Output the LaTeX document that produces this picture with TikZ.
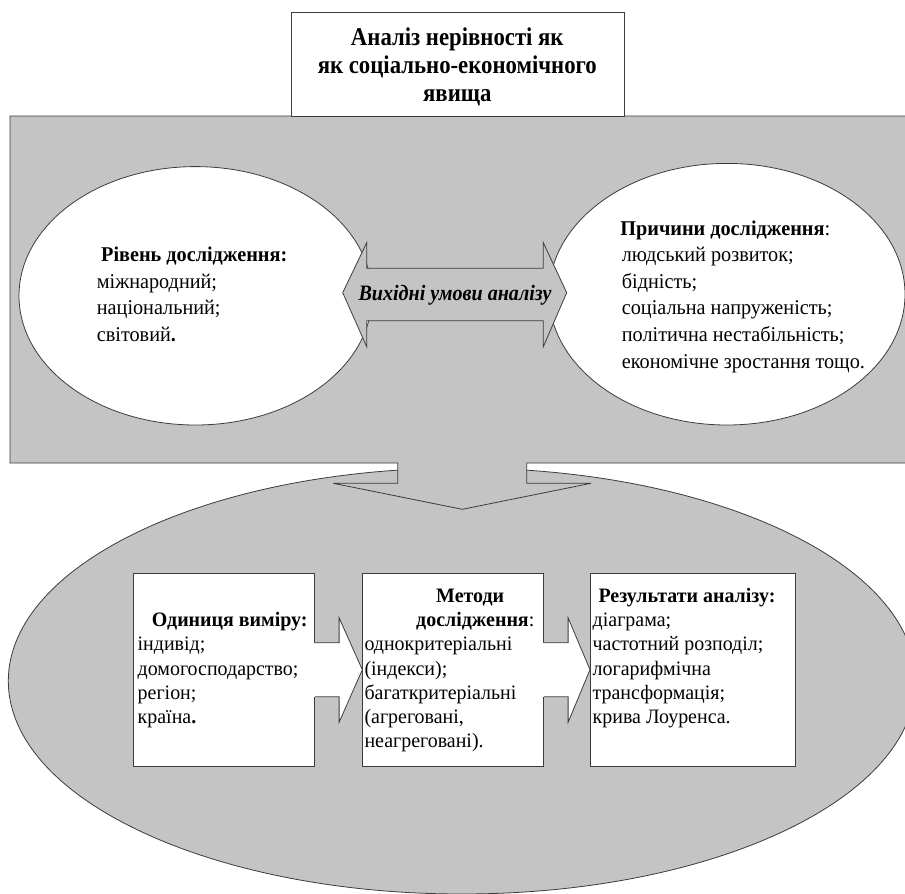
\documentclass[tikz,border=0pt]{standalone}
\usepackage{fontspec}
\setmainfont{Liberation Serif}
\usetikzlibrary{shapes.geometric,calc}
\definecolor{panelgray}{RGB}{196,196,196}
\definecolor{edgegray}{RGB}{60,60,60}
\newlength{\calw}
\newcommand{\indU}[1]{\hspace*{\fpeval{(#1)/\scU}pt}}
\newcommand{\indL}[1]{\hspace*{\fpeval{(#1)/\scL}pt}}
\begin{document}
% --- horizontal squeeze of the text, from widths measured in the reference ---
\settowidth{\calw}{\fontsize{21}{24}\selectfont економічне зростання тощо.}%
\pgfmathsetmacro{\scU}{243/\calw}%
\settowidth{\calw}{\fontsize{20.5}{24}\selectfont однокритеріальні}%
\pgfmathsetmacro{\scLa}{165/\calw}%
\settowidth{\calw}{\fontsize{20.5}{24}\selectfont частотний розподіл;}%
\pgfmathsetmacro{\scLb}{151/\calw}%
\pgfmathsetmacro{\scL}{(\scLa+\scLb)/2}%
\settowidth{\calw}{\fontsize{25.5}{28}\selectfont\bfseries як соціально-економічного}%
\pgfmathsetmacro{\scT}{279/\calw}%
\settowidth{\calw}{\fontsize{22}{24}\selectfont\bfseries\itshape Вихідні умови аналізу}%
\pgfmathsetmacro{\scA}{193/\calw}%
\begin{tikzpicture}[x=1pt,y=-1pt,
  outline/.style={draw=edgegray,line width=0.8pt},
  upperfont/.style={inner sep=0pt,anchor=base west,font=\fontsize{21}{26.6}\selectfont},
  lowerfont/.style={inner sep=0pt,anchor=base west,font=\fontsize{20.5}{24.2}\selectfont},
  whitebox/.style={outline,fill=white,minimum height=193.3pt,inner sep=0pt,anchor=north west}]
\useasboundingbox (0,0) rectangle (905,894);
\clip (0,0) rectangle (905,894);

% lower ellipse
\node[ellipse,outline,fill=panelgray,minimum width=907.4pt,minimum height=426pt,inner sep=0pt] (base) at (462,681) {};

% upper panel with the downward arrow
\path[outline,fill=panelgray] (912,116) -- (10,116) -- (10,463) -- (397.7,463) -- (397.7,483.3) -- (333.3,483.3) -- (462.3,509.3) -- (591,483.3) -- (526.7,483.3) -- (526.7,463) -- (912,463);

% title box
\node[outline,fill=white,minimum width=333.3pt,minimum height=104.3pt,inner sep=0pt,anchor=north west] (title) at (290.7,11.7) {};
\node[inner sep=0pt,anchor=base,font=\fontsize{25.5}{28.3}\selectfont\bfseries] (titletext) at (457.3,45) {\scalebox{\scT}[1]{\begin{tabular}[t]{@{}c@{}}Аналіз нерівності як\\як соціально-економічного\\явища\end{tabular}}};

% two white ellipses
\node[ellipse,outline,fill=white,minimum width=353pt,minimum height=258.4pt,inner sep=0pt] (lvl) at (195.5,295.8) {};
\node[ellipse,outline,fill=white,minimum width=356pt,minimum height=261.6pt,inner sep=0pt] (why) at (727,294.2) {};

% double arrow
\path[outline,fill=panelgray] (342.7,292.7) -- (366.7,242.7) -- (366.7,268.3) -- (543.3,268.3) -- (543.3,242.7) -- (566.7,292.7) -- (543.3,346.7) -- (543.3,320.7) -- (366.7,320.7) -- (366.7,346.7) -- cycle;
\node[inner sep=0pt,anchor=base,font=\fontsize{22}{24}\selectfont\bfseries\itshape] (cond) at (455,300.5) {\scalebox{\scA}[1]{Вихідні умови аналізу}};

% texts of the ellipses
\node[upperfont] (lvltext) at (96.7,261.7) {\scalebox{\scU}[1]{\begin{tabular}[t]{@{}l@{}}\indU{4.3}\textbf{Рівень дослідження:}\\міжнародний;\\національний;\\світовий\textbf{.}\end{tabular}}};
\node[upperfont] (whytext) at (621.7,235) {\scalebox{\scU}[1]{\begin{tabular}[t]{@{}l@{}}\indU{-1.5}\textbf{Причини дослідження}:\\людський розвиток;\\бідність;\\соціальна напруженість;\\політична нестабільність;\\економічне зростання тощо.\end{tabular}}};

% three boxes
\node[whitebox,minimum width=181pt] (unit) at (133.3,572.7) {};
\node[whitebox,minimum width=181pt] (method) at (362.3,572.7) {};
\node[whitebox,minimum width=205pt] (result) at (590,572.7) {};

% block arrows between boxes
\fill[white] ($(unit.east)+(-1,-27)$) -- ++(25,0) -- ++(0,-25) -- (method.west) -- ($(unit.east)+(24,52.5)$) -- ++(0,-25.5) -- ($(unit.east)+(-1,27)$) -- cycle;
\draw[outline] ($(unit.east)+(0,-27)$) -- ++(24,0) -- ++(0,-25) -- (method.west) -- ($(unit.east)+(24,52.5)$) -- ++(0,-25.5) -- ($(unit.east)+(0,27)$);
\fill[white] ($(method.east)+(-1,-27)$) -- ++(25,0) -- ++(0,-25) -- (result.west) -- ($(method.east)+(24,52.5)$) -- ++(0,-25.5) -- ($(method.east)+(-1,27)$) -- cycle;
\draw[outline] ($(method.east)+(0,-27)$) -- ++(24,0) -- ++(0,-25) -- (result.west) -- ($(method.east)+(24,52.5)$) -- ++(0,-25.5) -- ($(method.east)+(0,27)$);

% texts of the boxes
\node[lowerfont] (unittext) at (137.5,626.7) {\scalebox{\scL}[1]{\begin{tabular}[t]{@{}l@{}}\indL{14.2}\textbf{Одиниця виміру:}\\індивід;\\домогосподарство;\\регіон;\\країна\textbf{.}\end{tabular}}};
\node[lowerfont] (methodtext) at (364.3,602.5) {\scalebox{\scL}[1]{\begin{tabular}[t]{@{}l@{}}\indL{71.7}\textbf{Методи}\\\indL{51.7}\textbf{дослідження}:\\однокритеріальні\\(індекси);\\багаткритеріальні\\(агреговані,\\неагреговані).\end{tabular}}};
\node[lowerfont] (resulttext) at (592.5,602.5) {\scalebox{\scL}[1]{\begin{tabular}[t]{@{}l@{}}\indL{5.8}\textbf{Результати аналізу:}\\діаграма;\\частотний розподіл;\\логарифмічна\\трансформація;\\крива Лоуренса.\end{tabular}}};
\end{tikzpicture}
\end{document}
